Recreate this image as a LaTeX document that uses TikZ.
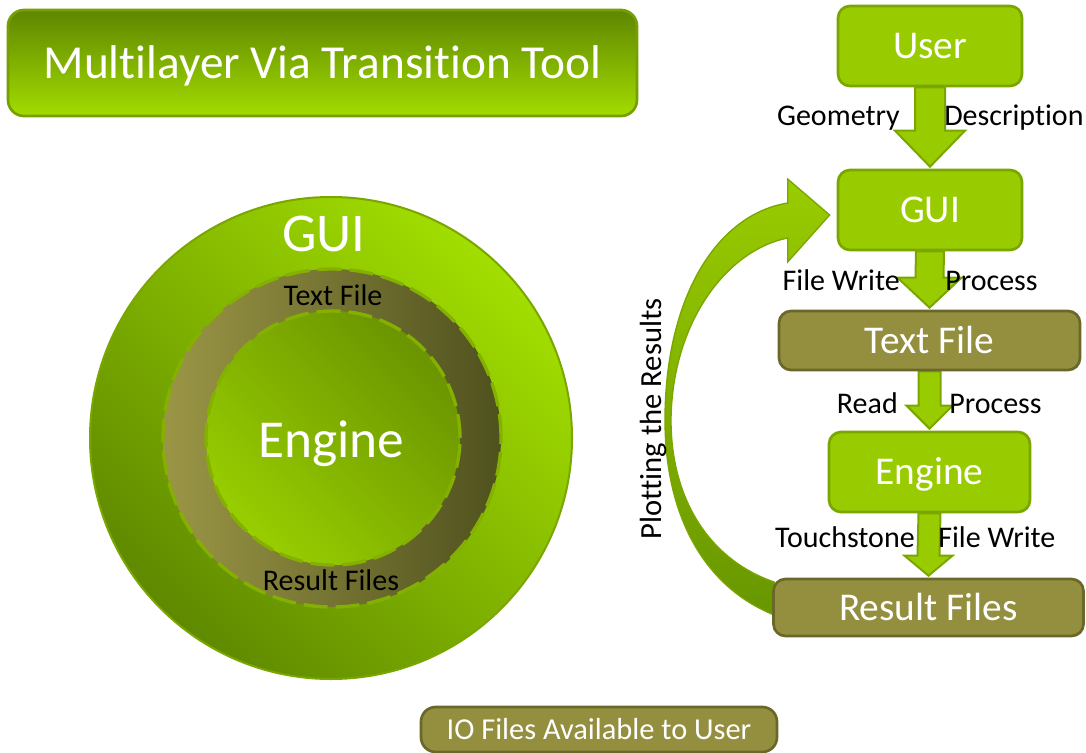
\documentclass[tikz,border=0pt]{standalone}
\usepackage{fontspec}
\setmainfont{Carlito}[Ligatures={NoCommon,NoRare,NoContextual},Contextuals=NoAlternate]
\usetikzlibrary{calc,backgrounds}

\definecolor{lime}{HTML}{99CC00}
\definecolor{limeedge}{HTML}{7AA600}
\definecolor{olivefill}{HTML}{948F3F}
\definecolor{oliveedge}{HTML}{6A6829}
\definecolor{titletop}{HTML}{5F8600}
\definecolor{titlebot}{HTML}{A2DC00}
\definecolor{titleedge}{HTML}{74A000}
\definecolor{discbright}{HTML}{A2DE00}
\definecolor{discdark}{HTML}{5F8900}
\definecolor{ringlight}{HTML}{9B9646}
\definecolor{ringdark}{HTML}{4F511E}
\definecolor{corebright}{HTML}{98CE00}
\definecolor{coredark}{HTML}{6B9400}
\definecolor{dashgreen}{HTML}{84B000}
\definecolor{curvedark}{HTML}{689600}

% keeps "t" and "i" as separate glyphs
\newcommand{\septi}{t\kern0pt i}

% block arrow pointing down from the bottom of #1 to the top of #2
% #3 shaft half width, #4 head half width, #5 head length
\newcommand{\downblock}[5]{%
  \draw[blockarrow]
    ($(#1.south)+(-#3,0)$) -- ($(#2.north)+(-#3,-#5-2)$)
    -- ($(#2.north)+(-#4,-#5-2)$) -- ($(#2.north)+(0,-2)$)
    -- ($(#2.north)+(#4,-#5-2)$) -- ($(#2.north)+(#3,-#5-2)$)
    -- ($(#1.south)+(#3,0)$) -- cycle;}

\begin{document}
\begin{tikzpicture}[x=0.75pt,y=-0.75pt,
  box/.style={rectangle, rounded corners=9pt, line width=2pt, inner sep=0pt,
    text=white, font=\fontsize{29.5}{34}\selectfont, text height=19pt, text depth=0pt},
  limebox/.style={box, fill=lime, draw=limeedge},
  olivebox/.style={box, fill=olivefill, draw=oliveedge},
  titlebox/.style={rectangle, rounded corners=12pt, line width=2pt, draw=titleedge,
    top color=titletop, bottom color=titlebot, text=white, inner sep=0pt,
    font=\fontsize{35.5}{42}\selectfont, text height=22.8pt, text depth=0pt},
  lbl/.style={inner sep=0pt, font=\fontsize{22.5}{27}\selectfont, text=black},
  disclbl/.style={inner sep=0pt, anchor=base, font=\fontsize{22.5}{27}\selectfont, text=black},
  ringedge/.style={draw=dashgreen, line width=2.5pt, dash pattern=on 18pt off 6pt},
  blockarrow/.style={fill=lime, draw=limeedge, line width=1.5pt, line join=miter},
]
\useasboundingbox (0,0) rectangle (1086,753);

% ---------- title ----------
\node[titlebox, minimum width=629*0.75pt, minimum height=106*0.75pt] (title)
  at (322.5,63) {Multilayer Via Transi\septi on Tool};

% ---------- nested discs ----------
\node[circle, draw=limeedge, line width=1.5pt, minimum size=482*0.75pt,
  top color=discbright, bottom color=discdark, shading angle=-45] (guidisc) at (331,438) {};
\node[circle, ringedge, left color=ringlight, right color=ringdark,
  minimum size=338*0.75pt] (filering) at (332,438) {};
\node[circle, ringedge, top color=coredark, bottom color=corebright, shading angle=-45,
  minimum size=254*0.75pt] (enginecore) at (333,438) {};

\node[inner sep=0pt, anchor=base, text=white, font=\fontsize{41}{48}\selectfont] (discgui) at (324,251) {GUI};
\node[disclbl] (disctext) at (333,305) {Text File};
\node[inner sep=0pt, anchor=base, text=white, font=\fontsize{40}{48}\selectfont] (discengine) at (331,457) {Engine};
\node[disclbl] (discresult) at (331,590) {Result Files};

% ---------- flow chart ----------
\node[limebox, minimum width=184*0.75pt, minimum height=80*0.75pt] (user) at (930,46) {User};
\node[limebox, minimum width=184*0.75pt, minimum height=80*0.75pt] (gui) at (930,210) {GUI};
\node[olivebox, minimum width=301*0.75pt, minimum height=59*0.75pt] (text) at (929.5,340.5) {Text File};
\node[limebox, minimum width=201*0.75pt, minimum height=80*0.75pt] (engine) at (929.5,472) {Engine};
\node[olivebox, minimum width=310*0.75pt, minimum height=57*0.75pt] (res) at (928.5,607.5) {Result Files};

\coordinate (tip) at ($(gui.west)+(-7,5)$);

\begin{pgfonlayer}{background}
  \fill[white] (0,0) rectangle (1086,753);
  \downblock{user}{gui}{15}{35}{36}
  \downblock{gui}{text}{14}{32}{30}
  \downblock{text}{engine}{11}{23}{23}
  \downblock{engine}{res}{11}{24}{20}
  % curved return arrow from the results back to the GUI
  \path[draw=limeedge, line width=1pt, line join=miter, top color=lime, bottom color=curvedark]
    ($(res.west)+(2,7.5)$) .. controls (700,585) and (665,510) .. (665,420)
    .. controls (665,300) and (715,215) .. ($(tip)+(-42,-12)$)
    -- ($(tip)+(-42,-36)$) -- (tip) -- ($(tip)+(-42,47)$) -- ($(tip)+(-42,23)$)
    .. controls (727,250) and (672,322) .. (671,420)
    .. controls (671,500) and (710,560) .. ($(res.west)+(2,-25.5)$) -- cycle;
\end{pgfonlayer}

\node[lbl, anchor=base east] (geo) at (900,125) {Geometry};
\node[lbl, anchor=base west] (desc) at (944,125) {Description};
\node[lbl, anchor=base east] (fw1) at (900,290) {File Write};
\node[lbl, anchor=base west] (pr1) at (945,290) {Process};
\node[lbl, anchor=base east] (rd) at (898,413) {Read};
\node[lbl, anchor=base west] (pr2) at (949,413) {Process};
\node[lbl, anchor=base east] (ts) at (915,547) {Touchstone};
\node[lbl, anchor=base west] (fw2) at (938,547) {File Write};

\node[lbl, rotate=90, font=\fontsize{23}{27}\selectfont] (plot) at (653,419) {Plot\septi ng the Results};

% ---------- footer ----------
\node[olivebox, rounded corners=11pt, minimum width=356*0.75pt, minimum height=45*0.75pt,
  font=\fontsize{22.8}{27}\selectfont, text height=14.7pt] (io) at (599,729.5) {IO Files Available to User};
\end{tikzpicture}
\end{document}
